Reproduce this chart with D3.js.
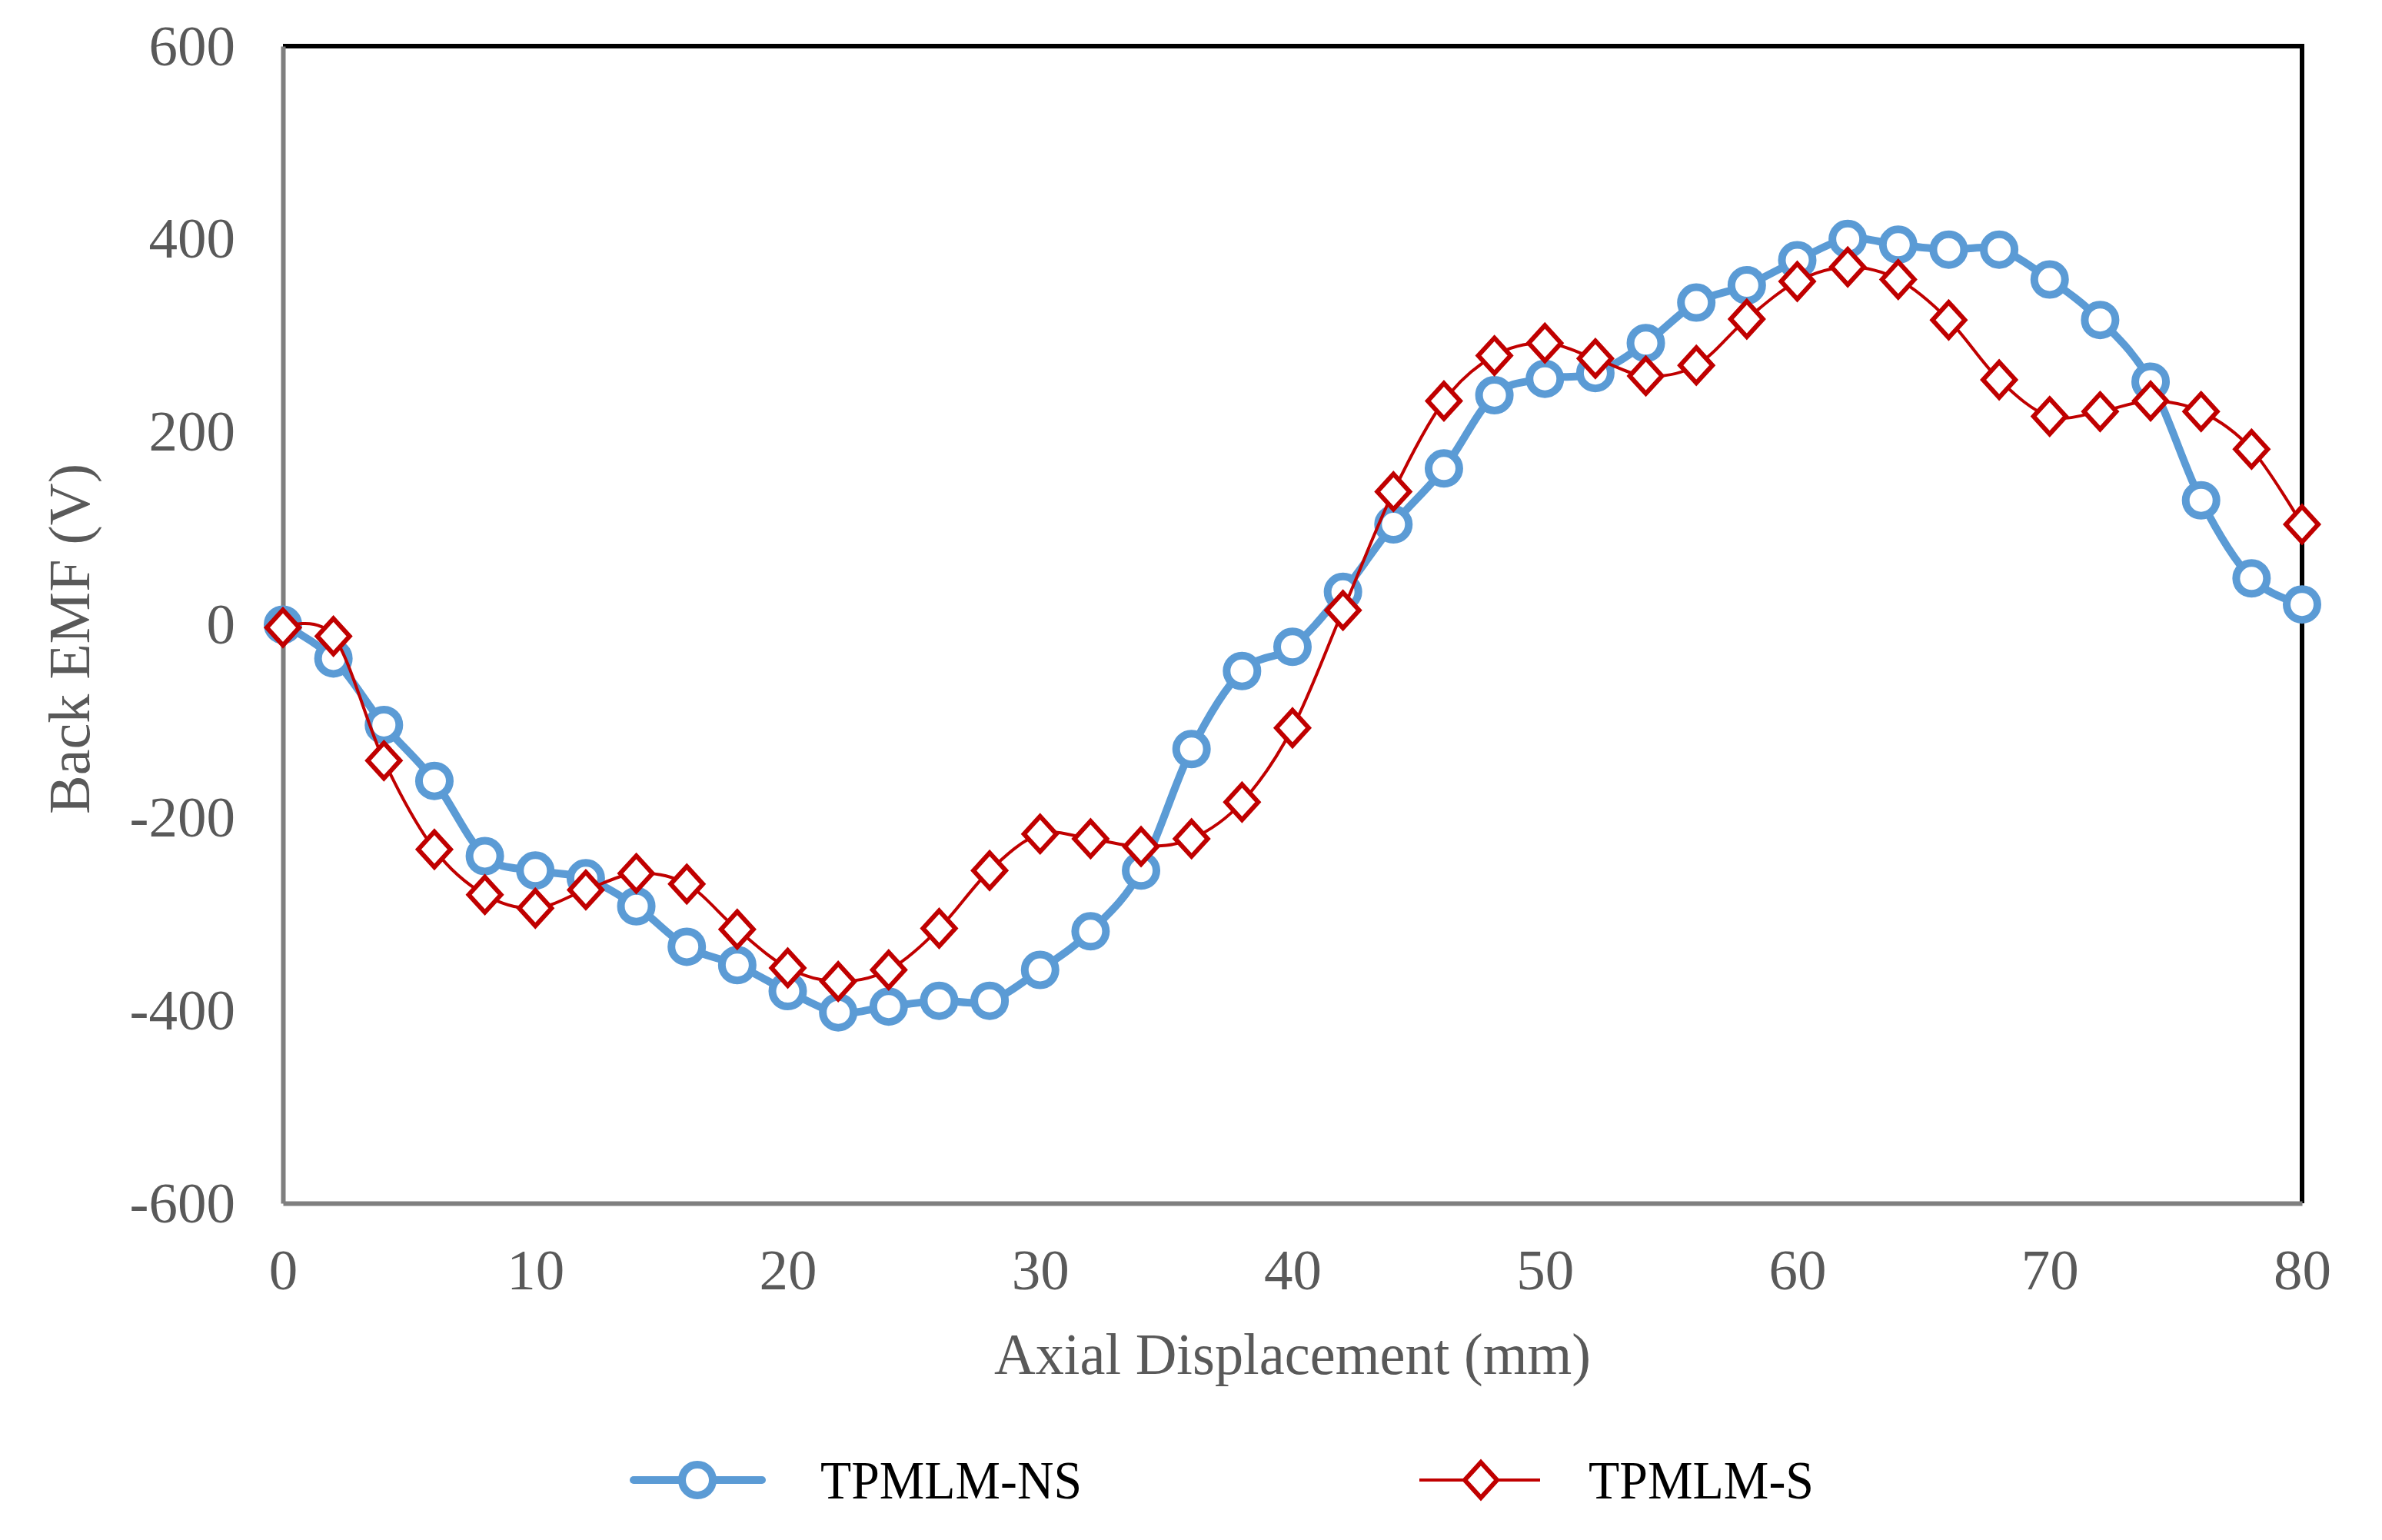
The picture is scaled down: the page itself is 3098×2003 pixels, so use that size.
<!DOCTYPE html>
<meta charset="utf-8">
<script src="https://d3js.org/d3.v7.min.js"></script>
<style>
  body { margin: 0; background: #fff; }
  text { font-family: "Liberation Serif", "Times New Roman", serif; }
</style>
<svg id="chart" width="3098" height="2003"></svg>
<script>

// data
const displacement = [0, 2, 4, 6, 8, 10, 12, 14, 16, 18, 20, 22, 24, 26, 28, 30, 32, 34, 36, 38, 40,
  42, 44, 46, 48, 50, 52, 54, 56, 58, 60, 62, 64, 66, 68, 70, 72, 74, 76, 78, 80];
const emfNS = [0, -35, -104, -162, -240, -255, -263, -292, -334, -353, -380, -402, -396, -390, -390,
  -358, -318, -255, -129, -48, -23, 34, 104, 162, 238, 255, 261, 292, 334, 352, 378, 400, 394, 389,
  389, 358, 316, 252, 129, 48, 21];
const emfS = [-3, -12, -141, -233, -280, -294, -275, -258, -269, -316, -356, -370, -358, -315, -255,
  -217, -222, -230, -222, -184, -107, 15, 138, 232, 279, 292, 276, 258, 269, 317, 356, 371, 358, 316,
  254, 216, 221, 232, 221, 182, 104];
const xTicks = [0, 10, 20, 30, 40, 50, 60, 70, 80];
const yTicks = [-600, -400, -200, 0, 200, 400, 600];
const seriesNames = ["TPMLM-NS", "TPMLM-S"];

const svg = d3.select("#chart");

const plotL = 368, plotR = 2994, plotT = 60, plotB = 1565;

const x = d3.scaleLinear().domain([0, 80]).range([plotL, plotR]);
const y = d3.scaleLinear().domain([-600, 600]).range([plotB, plotT]);

// frame: top and right black, left and bottom grey
svg.append("line").attr("x1", plotL).attr("x2", plotR).attr("y1", plotT).attr("y2", plotT)
  .attr("stroke", "#000").attr("stroke-width", 6);
svg.append("line").attr("x1", plotR).attr("x2", plotR).attr("y1", plotT - 3).attr("y2", plotB)
  .attr("stroke", "#000").attr("stroke-width", 6);

// axes (plain hyphen for negatives, like the original)
const plain = d => String(d);
const xAxis = svg.append("g")
  .attr("transform", `translate(0, ${plotB})`)
  .call(d3.axisBottom(x).tickValues(xTicks).tickSize(0).tickPadding(59).tickFormat(plain));
const yAxis = svg.append("g")
  .attr("transform", `translate(${plotL}, 0)`)
  .call(d3.axisLeft(y).tickValues(yTicks).tickSize(0).tickPadding(62).tickFormat(plain));

[xAxis, yAxis].forEach(function (g) {
  g.select(".domain").attr("stroke", "#7f7f7f").attr("stroke-width", 6);
  g.selectAll("text")
    .attr("fill", "#595959")
    .style("font-size", "75px")
    .style("font-family", "'Liberation Serif', 'Times New Roman', serif");
});

// axis titles
svg.append("text")
  .attr("x", (plotL + plotR) / 2)
  .attr("y", 1787)
  .attr("text-anchor", "middle")
  .attr("fill", "#595959")
  .style("font-size", "76px")
  .attr("textLength", 776)
  .attr("lengthAdjust", "spacingAndGlyphs")
  .text("Axial Displacement (mm)");

svg.append("text")
  .attr("transform", "translate(116, 831) rotate(-90)")
  .attr("text-anchor", "middle")
  .attr("fill", "#595959")
  .style("font-size", "76px")
  .text("Back EMF (V)");

// smooth lines like the spreadsheet
const line = d3.line().curve(d3.curveCardinal.tension(0));

const diamond = function (w, h) {
  return `M0,${-h}L${w},0L0,${h}L${-w},0Z`;
};

// TPMLM-NS
svg.append("path")
  .attr("d", line(displacement.map((d, i) => [x(d), y(emfNS[i])])))
  .attr("fill", "none")
  .attr("stroke", "#5b9bd5")
  .attr("stroke-width", 10)
  .attr("stroke-linejoin", "round");

svg.append("g")
  .selectAll("circle")
  .data(displacement)
  .join("circle")
    .attr("cx", d => x(d))
    .attr("cy", (d, i) => y(emfNS[i]))
    .attr("r", 20)
    .attr("fill", "#fff")
    .attr("stroke", "#5b9bd5")
    .attr("stroke-width", 10);

// TPMLM-S
svg.append("path")
  .attr("d", line(displacement.map((d, i) => [x(d), y(emfS[i])])))
  .attr("fill", "none")
  .attr("stroke", "#c00000")
  .attr("stroke-width", 4);

svg.append("g")
  .selectAll("path")
  .data(displacement)
  .join("path")
    .attr("transform", (d, i) => `translate(${x(d)}, ${y(emfS[i])})`)
    .attr("d", diamond(21, 23))
    .attr("fill", "#fff")
    .attr("stroke", "#c00000")
    .attr("stroke-width", 6);

// legend
const legY = 1925;
const leg = svg.append("g");

leg.append("line").attr("x1", 824).attr("x2", 991).attr("y1", legY).attr("y2", legY)
  .attr("stroke", "#5b9bd5").attr("stroke-width", 10).attr("stroke-linecap", "round");
leg.append("circle").attr("cx", 907).attr("cy", legY).attr("r", 20)
  .attr("fill", "#fff").attr("stroke", "#5b9bd5").attr("stroke-width", 10);
leg.append("text").attr("x", 1067).attr("y", legY + 24)
  .attr("fill", "#000").style("font-size", "70px")
  .attr("textLength", 340).attr("lengthAdjust", "spacingAndGlyphs")
  .text(seriesNames[0]);

leg.append("line").attr("x1", 1846).attr("x2", 2003).attr("y1", legY).attr("y2", legY)
  .attr("stroke", "#c00000").attr("stroke-width", 4);
leg.append("path").attr("transform", `translate(1926, ${legY})`)
  .attr("d", diamond(21, 23))
  .attr("fill", "#fff").attr("stroke", "#c00000").attr("stroke-width", 6);
leg.append("text").attr("x", 2066).attr("y", legY + 24)
  .attr("fill", "#000").style("font-size", "70px")
  .attr("textLength", 293).attr("lengthAdjust", "spacingAndGlyphs")
  .text(seriesNames[1]);

</script>
